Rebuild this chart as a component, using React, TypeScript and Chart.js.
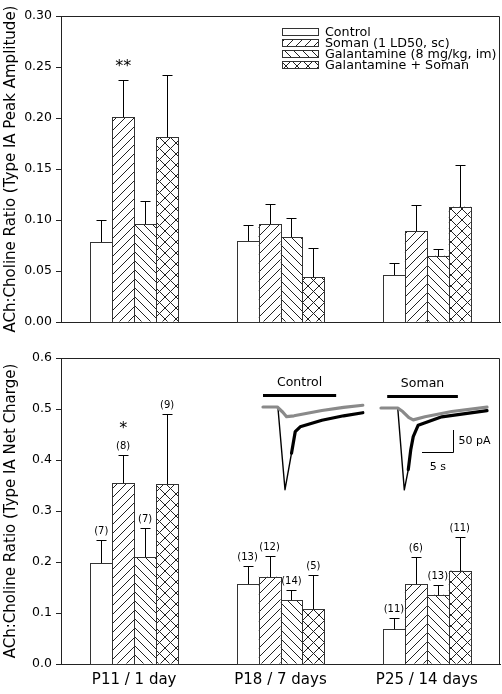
import React, { useEffect, useRef } from "react";
import { Chart, registerables } from "chart.js";
Chart.register(...registerables);

const FONT = "'DejaVu Sans', sans-serif";

const categories = ["P11 / 1 day", "P18 / 7 days", "P25 / 14 days"];
const seriesNames = ["Control", "Soman (1 LD50, sc)", "Galantamine (8 mg/kg, im)", "Galantamine + Soman"];

// Top panel: peak amplitude ratio (mean, SEM)
const peakControl = [0.078, 0.079, 0.046];
const peakSoman = [0.201, 0.096, 0.089];
const peakGal = [0.096, 0.083, 0.065];
const peakGalSoman = [0.181, 0.044, 0.113];
const peakControlSem = [0.022, 0.016, 0.012];
const peakSomanSem = [0.036, 0.020, 0.026];
const peakGalSem = [0.023, 0.019, 0.007];
const peakGalSomanSem = [0.061, 0.029, 0.041];
const peakStars = [["", "", ""], ["**", "", ""], ["", "", ""], ["", "", ""]];

// Bottom panel: net charge ratio (mean, SEM, n)
const chargeControl = [0.198, 0.157, 0.069];
const chargeSoman = [0.354, 0.171, 0.157];
const chargeGal = [0.210, 0.125, 0.136];
const chargeGalSoman = [0.353, 0.108, 0.183];
const chargeControlSem = [0.045, 0.035, 0.021];
const chargeSomanSem = [0.056, 0.040, 0.052];
const chargeGalSem = [0.056, 0.020, 0.019];
const chargeGalSomanSem = [0.137, 0.067, 0.066];
const chargeControlN = [7, 13, 11];
const chargeSomanN = [8, 12, 6];
const chargeGalN = [7, 14, 13];
const chargeGalSomanN = [9, 5, 11];
const chargeStars = [["", "", ""], ["*", "", ""], ["", "", ""], ["", "", ""]];

// Inset example currents: [time (s), current (pA)]
const controlTraceGray: [number, number][] = [[0, 0], [2.3, 0], [3.2, -12], [3.8, -22], [5, -20], [6.5, -16], [9.5, -8], [13, -1], [16.1, 4]];
const controlTraceBlack: [number, number][] = [[0, 0], [2.4, 0], [3.55, -188], [4.6, -105], [5.2, -56], [6, -45], [9.5, -30], [13, -20], [16.1, -13]];
const somanTraceGray: [number, number][] = [[0, 0], [2.7, 0], [3.5, -8], [4.5, -22], [5.2, -27], [7.1, -20], [11.4, -8], [17.1, 2]];
const somanTraceBlack: [number, number][] = [[0, 0], [2.7, 0], [3.76, -186], [4.4, -140], [4.8, -95], [5.2, -65], [6, -39], [9.8, -20], [17.1, -6]];

type PatternKind = "none" | "fwd" | "back" | "cross";
const patternKinds: PatternKind[] = ["none", "fwd", "back", "cross"];

function makePattern(kind: PatternKind): CanvasPattern | string {
  if (kind === "none") return "#ffffff";
  const s = kind === "cross" ? 11 : 9;
  const c = document.createElement("canvas");
  c.width = s;
  c.height = s;
  const g = c.getContext("2d")!;
  g.fillStyle = "#fff";
  g.fillRect(0, 0, s, s);
  g.strokeStyle = "#222";
  g.lineWidth = 1;
  g.beginPath();
  if (kind === "fwd" || kind === "cross") {
    g.moveTo(-1, s + 1); g.lineTo(s + 1, -1);
    g.moveTo(-1, 1); g.lineTo(1, -1);
    g.moveTo(s - 1, s + 1); g.lineTo(s + 1, s - 1);
  }
  if (kind === "back" || kind === "cross") {
    g.moveTo(-1, -1); g.lineTo(s + 1, s + 1);
    g.moveTo(s - 1, -1); g.lineTo(s + 1, 1);
    g.moveTo(-1, s - 1); g.lineTo(1, s + 1);
  }
  g.stroke();
  return g.createPattern(c, "repeat")!;
}

function barPlugin(means: number[][], sems: number[][], ns: number[][] | null, stars: string[][]) {
  return {
    id: "barDecor",
    afterDatasetsDraw(chart: any) {
      const ctx = chart.ctx as CanvasRenderingContext2D;
      const yScale = chart.scales.y;
      ctx.save();
      chart.data.datasets.forEach((_ds: any, di: number) => {
        const meta = chart.getDatasetMeta(di);
        meta.data.forEach((el: any, i: number) => {
          const { x, y, base, width } = el.getProps(["x", "y", "base", "width"], true);
          const l = Math.round(x - width / 2);
          const r = Math.round(x + width / 2);
          const t = Math.round(y);
          const b = Math.round(base);
          ctx.strokeStyle = "#333";
          ctx.lineWidth = 1;
          ctx.strokeRect(l + 0.5, t + 0.5, r - l, b - t);
          const cap = Math.round(yScale.getPixelForValue(means[di][i] + sems[di][i]));
          const cx = Math.round(x) + 0.5;
          ctx.strokeStyle = "#000";
          ctx.beginPath();
          ctx.moveTo(cx, t);
          ctx.lineTo(cx, cap + 0.5);
          ctx.moveTo(cx - 5, cap + 0.5);
          ctx.lineTo(cx + 5, cap + 0.5);
          ctx.stroke();
          ctx.fillStyle = "#000";
          ctx.textAlign = "center";
          ctx.textBaseline = "alphabetic";
          if (ns) {
            ctx.font = `10px ${FONT}`;
            ctx.fillText(`(${ns[di][i]})`, x, cap - 6);
          }
          const st = stars[di][i];
          if (st) {
            ctx.font = `16px ${FONT}`;
            ctx.fillText(st, x, cap - (ns ? 22 : 9));
          }
        });
      });
      ctx.restore();
    },
    afterDraw(chart: any) {
      const { left, top, right, bottom } = chart.chartArea;
      const ctx = chart.ctx as CanvasRenderingContext2D;
      ctx.save();
      ctx.strokeStyle = "#222";
      ctx.lineWidth = 1;
      ctx.beginPath();
      ctx.moveTo(left, Math.round(top) + 0.5);
      ctx.lineTo(Math.round(right) - 0.5, Math.round(top) + 0.5);
      ctx.lineTo(Math.round(right) - 0.5, bottom);
      ctx.stroke();
      ctx.restore();
    },
  };
}

function legendPlugin(patterns: (CanvasPattern | string)[]) {
  return {
    id: "patLegend",
    afterDraw(chart: any) {
      const ctx = chart.ctx as CanvasRenderingContext2D;
      const { right, top } = chart.chartArea;
      ctx.save();
      seriesNames.forEach((name, i) => {
        const cy = Math.round(top + 16 + 11 * i);
        const bx = Math.round(right - 218);
        ctx.fillStyle = patterns[i] as any;
        ctx.fillRect(bx, cy - 3, 36, 7);
        ctx.strokeStyle = "#333";
        ctx.lineWidth = 1;
        ctx.strokeRect(bx + 0.5, cy - 3.5, 36, 7);
        ctx.fillStyle = "#000";
        ctx.font = `12.7px ${FONT}`;
        ctx.textAlign = "left";
        ctx.textBaseline = "middle";
        ctx.fillText(name, right - 175, cy + 0.5);
      });
      ctx.restore();
    },
  };
}

const PX_PER_S = 6.2;
const PX_PER_PA = 0.44;

function insetPlugin() {
  return {
    id: "inset",
    afterDraw(chart: any) {
      const ctx = chart.ctx as CanvasRenderingContext2D;
      const { left, top } = chart.chartArea;
      const blocks = [
        { label: "Control", ox: left + 202, oy: top + 49, gray: controlTraceGray, black: controlTraceBlack, barFrom: 0, barTo: 11.8, scale: false },
        { label: "Soman", ox: left + 320, oy: top + 50, gray: somanTraceGray, black: somanTraceBlack, barFrom: 1, barTo: 12.4, scale: true },
      ];
      const px = (ox: number, t: number) => ox + t * PX_PER_S;
      const py = (oy: number, a: number) => oy - a * PX_PER_PA;
      const stroke = (pts: [number, number][], ox: number, oy: number, color: string, lw: number) => {
        ctx.beginPath();
        pts.forEach(([t, a], k) => {
          if (k === 0) ctx.moveTo(px(ox, t), py(oy, a));
          else ctx.lineTo(px(ox, t), py(oy, a));
        });
        ctx.strokeStyle = color;
        ctx.lineWidth = lw;
        ctx.lineJoin = "round";
        ctx.lineCap = "round";
        ctx.stroke();
      };
      ctx.save();
      blocks.forEach((b) => {
        ctx.fillStyle = "#000";
        ctx.fillRect(px(b.ox, b.barFrom), b.oy - 13, (b.barTo - b.barFrom) * PX_PER_S, 3);
        ctx.font = `12.5px ${FONT}`;
        ctx.textAlign = "center";
        ctx.textBaseline = "middle";
        ctx.fillText(b.label, px(b.ox, (b.barFrom + b.barTo) / 2), b.oy - 24);
        stroke(b.black, b.ox, b.oy, "#000", 1.4);
        stroke(b.black.slice(3), b.ox, b.oy, "#000", 3.2);
        stroke(b.gray, b.ox, b.oy, "#8a8a8a", 3.2);
        if (b.scale) {
          const cx = Math.round(px(b.ox, 11.6)) + 0.5;
          const cy = Math.round(py(b.oy, -100)) + 0.5;
          const topY = Math.round(py(b.oy, -50));
          const lx = Math.round(px(b.ox, 6.6));
          ctx.strokeStyle = "#000";
          ctx.lineWidth = 1;
          ctx.lineCap = "butt";
          ctx.beginPath();
          ctx.moveTo(cx, topY);
          ctx.lineTo(cx, cy);
          ctx.lineTo(lx, cy);
          ctx.stroke();
          ctx.font = `11px ${FONT}`;
          ctx.textAlign = "left";
          ctx.fillText("50 pA", cx + 5, py(b.oy, -75));
          ctx.textAlign = "center";
          ctx.fillText("5 s", (cx + lx) / 2, cy + 15);
        }
      });
      ctx.restore();
    },
  };
}

function buildConfig(opts: {
  means: number[][];
  sems: number[][];
  ns: number[][] | null;
  stars: string[][];
  patterns: (CanvasPattern | string)[];
  yMax: number;
  yStep: number;
  decimals: number;
  title: string;
  showX: boolean;
  padTop: number;
  padBottom: number;
  xHeight: number;
  extra: any[];
}): any {
  return {
    type: "bar",
    data: {
      labels: categories,
      datasets: opts.means.map((m, i) => ({
        label: seriesNames[i],
        data: m,
        backgroundColor: opts.patterns[i],
        borderWidth: 0,
        categoryPercentage: 0.6,
        barPercentage: 1,
      })),
    },
    options: {
      responsive: false,
      animation: false,
      events: [],
      layout: { padding: { top: opts.padTop, right: 2, bottom: opts.padBottom, left: 0 } },
      plugins: { legend: { display: false }, tooltip: { enabled: false } },
      scales: {
        x: {
          grid: { display: false, drawTicks: false },
          border: { display: true, color: "#222", width: 1 },
          ticks: {
            display: opts.showX,
            color: "#000",
            padding: 7,
            font: { family: FONT, size: 15 },
          },
          afterFit: (s: any) => { s.height = opts.xHeight; },
        },
        y: {
          min: 0,
          max: opts.yMax,
          grid: { display: true, drawOnChartArea: false, drawTicks: true, tickLength: 5, color: "#222" },
          border: { display: true, color: "#222", width: 1 },
          ticks: {
            stepSize: opts.yStep,
            color: "#000",
            padding: 4,
            font: { family: FONT, size: 12.5 },
            callback: (v: any) => Number(v).toFixed(opts.decimals),
          },
          title: {
            display: true,
            text: opts.title,
            color: "#000",
            font: { family: FONT, size: 15 },
            padding: { top: 2, bottom: 0 },
          },
          afterFit: (s: any) => { s.width = 61; },
        },
      },
    },
    plugins: [barPlugin(opts.means, opts.sems, opts.ns, opts.stars), ...opts.extra],
  };
}

export default function App() {
  const topRef = useRef<HTMLCanvasElement>(null);
  const botRef = useRef<HTMLCanvasElement>(null);

  useEffect(() => {
    const patterns = patternKinds.map(makePattern);
    const top = new Chart(
      topRef.current!,
      buildConfig({
        means: [peakControl, peakSoman, peakGal, peakGalSoman],
        sems: [peakControlSem, peakSomanSem, peakGalSem, peakGalSomanSem],
        ns: null,
        stars: peakStars,
        patterns,
        yMax: 0.3,
        yStep: 0.05,
        decimals: 2,
        title: "ACh:Choline Ratio (Type IA Peak Amplitude)",
        showX: false,
        padTop: 16,
        padBottom: 18,
        xHeight: 0,
        extra: [legendPlugin(patterns)],
      })
    );
    const bot = new Chart(
      botRef.current!,
      buildConfig({
        means: [chargeControl, chargeSoman, chargeGal, chargeGalSoman],
        sems: [chargeControlSem, chargeSomanSem, chargeGalSem, chargeGalSomanSem],
        ns: [chargeControlN, chargeSomanN, chargeGalN, chargeGalSomanN],
        stars: chargeStars,
        patterns,
        yMax: 0.6,
        yStep: 0.1,
        decimals: 1,
        title: "ACh:Choline Ratio (Type IA Net Charge)",
        showX: true,
        padTop: 18,
        padBottom: 0,
        xHeight: 30,
        extra: [insetPlugin()],
      })
    );
    return () => {
      top.destroy();
      bot.destroy();
    };
  }, []);

  return (
    <div style={{ position: "absolute", left: 0, top: 0, width: 502, height: 694, background: "#fff" }}>
      <canvas ref={topRef} width={502} height={340} style={{ position: "absolute", left: 0, top: 0, display: "block" }} />
      <canvas ref={botRef} width={502} height={354} style={{ position: "absolute", left: 0, top: 340, display: "block" }} />
    </div>
  );
}
